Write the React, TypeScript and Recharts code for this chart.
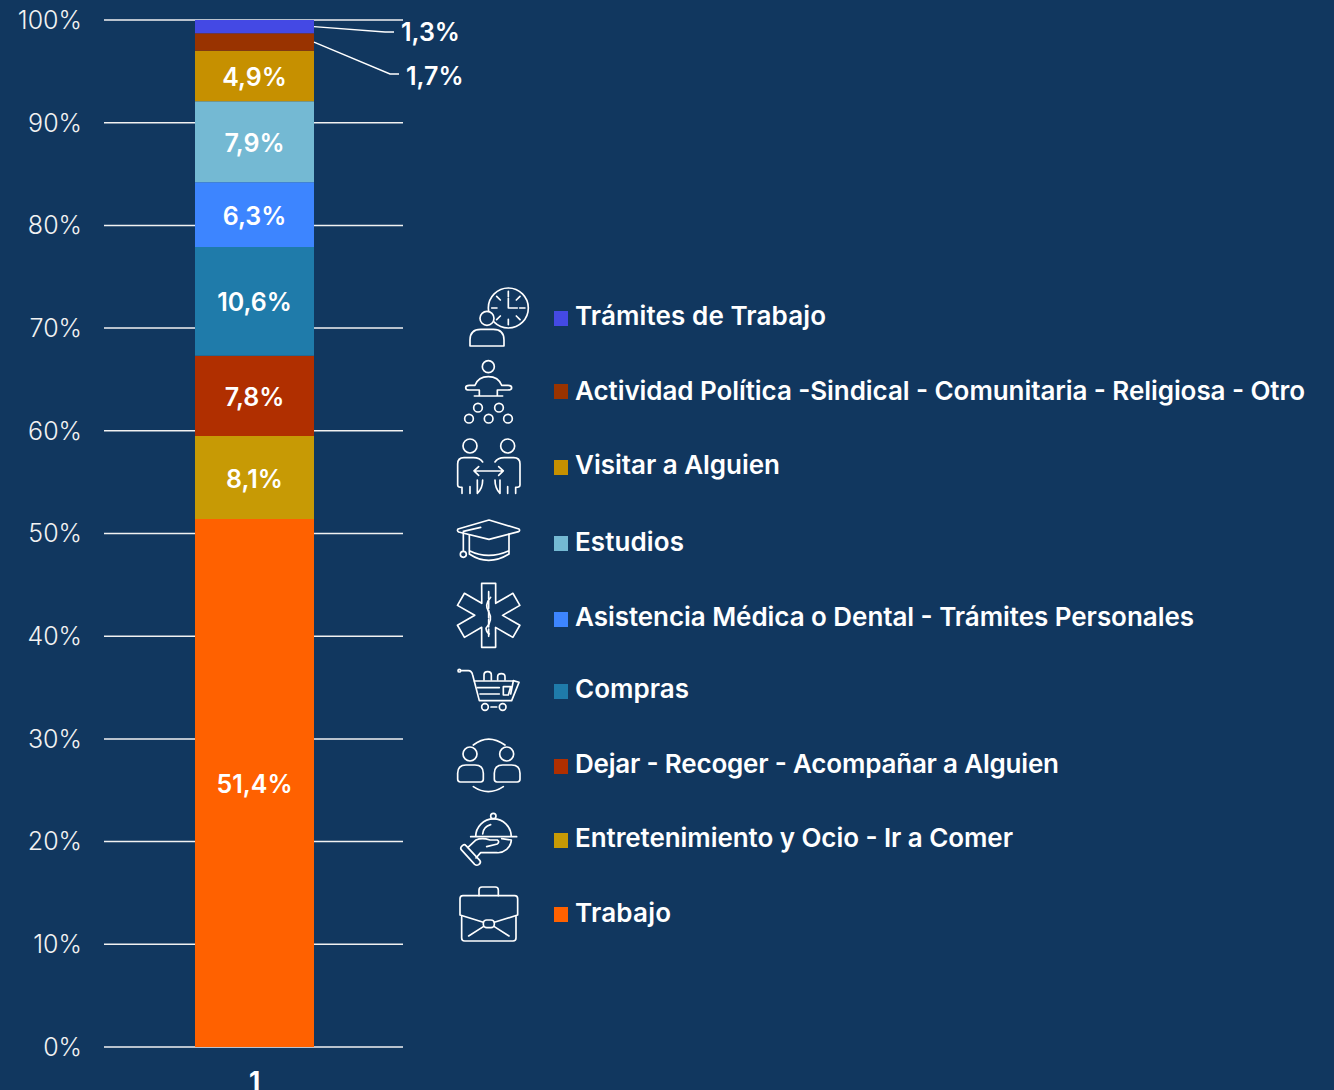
import React from "react";
import { BarChart, Bar, XAxis, YAxis, CartesianGrid, LabelList } from "recharts";

const categories = ["1"];
const yTicks = [0, 10, 20, 30, 40, 50, 60, 70, 80, 90, 100];

// bottom to top, same order as the stack
const seriesNames = [
  "Trabajo",
  "Entretenimiento y Ocio - Ir a Comer",
  "Dejar - Recoger - Acompañar a Alguien",
  "Compras",
  "Asistencia Médica o Dental - Trámites Personales",
  "Estudios",
  "Visitar a Alguien",
  "Actividad Política -Sindical - Comunitaria - Religiosa - Otro",
  "Trámites de Trabajo",
];
const seriesValues = [51.4, 8.1, 7.8, 10.6, 6.3, 7.9, 4.9, 1.7, 1.3];
const seriesColors = [
  "#FF6100",
  "#C79A05",
  "#B02F00",
  "#1F7BAA",
  "#3D85FF",
  "#74B9D3",
  "#C69000",
  "#993300",
  "#4449E4",
];

const BG = "#11375F";
const FONT = "Inter, 'Noto Sans', sans-serif";

const row: Record<string, string | number> = { name: categories[0] };
seriesNames.forEach((n, i) => {
  row[n] = seriesValues[i];
});
const data = [row];

const pct = (v: number) => v.toFixed(1).replace(".", ",") + "%";

// legend layout, matched to series index
const legendY = [912, 837, 763, 688, 616, 541, 464, 390, 315];
const swatchY = [907, 833, 759, 684, 612, 536, 460, 384, 311];
const legendWidth = [96, 438, 484, 114, 619, 109, 205, 730, 251];

// the two thin segments get an outside label with a leader line
function LeaderLabel({ x, y, width, height, value, kink, textX, textY }: any) {
  const sx = x + width;
  const sy = y + height / 2;
  return (
    <g>
      <polyline
        points={`${sx},${sy} ${kink[0]},${kink[1]} ${kink[2]},${kink[1]}`}
        fill="none"
        stroke="#fff"
        strokeWidth={1.4}
      />
      <text x={textX} y={textY} fill="#fff" fontSize={25} fontWeight={600} fontFamily={FONT} dominantBaseline="central">
        {pct(value)}
      </text>
    </g>
  );
}

function InnerLabel({ x, y, width, height, value }: any) {
  return (
    <text
      x={x + width / 2}
      y={y + height / 2 + 1}
      fill="#fff"
      fontSize={25}
      fontWeight={600}
      fontFamily={FONT}
      textAnchor="middle"
      dominantBaseline="central"
    >
      {pct(value)}
    </text>
  );
}

function starPoints() {
  const pts: string[] = [];
  for (let k = 0; k < 6; k++) {
    const a = (k * Math.PI) / 3;
    const rot = (px: number, py: number) =>
      `${146 + px * Math.cos(a) - py * Math.sin(a)},${316 + px * Math.sin(a) + py * Math.cos(a)}`;
    pts.push(rot(-21, -96), rot(21, -96), rot(21, -36));
  }
  return pts.join(" ");
}

// line icons, drawn in zoomed crop units (3x)
function Icons() {
  const common = { fill: "none", stroke: "#fff", strokeWidth: 5, strokeLinecap: "round", strokeLinejoin: "round" } as any;
  return (
    <g {...common}>
      <g transform="translate(440,280) scale(0.3333)">
        {/* clock + person */}
        <circle cx={205} cy={84} r={60} />
        <path d="M205 34V50M205 118V134M155 84H171M239 84H255M170 49L181 60M240 49L229 60M170 119L181 108M240 119L229 108" />
        <path d="M205 55V84H232" />
        <circle cx={141} cy={115} r={21} fill={BG} />
        <path d="M90 198V180Q90 148 122 148H160Q192 148 192 180V198Z" fill={BG} />
        {/* assembly */}
        <circle cx={145} cy={260} r={18} />
        <path d="M103 348H188M118 348V330H88Q77 330 77 323Q77 316 88 316H105Q115 290 145 290Q175 290 185 316H204Q215 316 215 323Q215 330 204 330H172V348" />
        <circle cx={114} cy={383} r={13} />
        <circle cx={177} cy={383} r={13} />
        <circle cx={87} cy={416} r={13} />
        <circle cx={146} cy={416} r={13} />
        <circle cx={204} cy={416} r={13} />
        {/* visit */}
        <circle cx={90} cy={498} r={21} />
        <circle cx={203} cy={498} r={21} />
        <path d="M128 546Q120 533 100 533H72Q53 533 53 552V615Q53 622 66 622V640M90 620V640M112 600V640H112Q128 625 128 600" />
        <path d="M165 546Q173 533 193 533H221Q240 533 240 552V615Q240 622 227 622V640M203 620V640M180 600V640Q165 625 165 600" />
        <path d="M102 573H190M116 560L102 573L116 586M176 560L190 573L176 586" />
      </g>
      <g transform="translate(440,510) scale(0.3333)">
        {/* cap */}
        <path d="M54 57L147 30L237 57Q241 61 236 65L147 88L56 66Q50 62 54 57Z" />
        <path d="M70 67V122M70 64L122 52" />
        <circle cx={70} cy={133} r={9} />
        <path d="M88 75V132Q145 170 207 132V72M88 122Q145 150 207 122" />
        {/* star of life */}
        <polygon points={starPoints()} />
        <path d="M146 245V385" strokeDasharray="22 6" />
        <path d="M152 262Q132 285 146 305Q160 330 138 355Q140 368 148 372" />
        {/* cart */}
        <circle cx={58} cy={482} r={4} />
        <path d="M62 482H85Q95 482 98 495L118 572H215L237 517L220 512" />
        <path d="M103 513H220L212 552M112 533H178M120 552H178M190 530H212L205 555H190Z" />
        <path d="M132 510V495Q132 485 143 485Q154 485 154 495V510M173 510V500Q173 491 184 491Q195 491 195 500V510" />
        <circle cx={135} cy={591} r={10} />
        <circle cx={188} cy={591} r={10} />
        <path d="M153 591H170" />
      </g>
      <g transform="translate(440,730) scale(0.3333)">
        {/* drop off */}
        <path d="M100 45Q145 10 195 45M100 170Q145 200 190 170" />
        <circle cx={90} cy={72} r={21} />
        <circle cx={200} cy={72} r={21} />
        <path d="M53 148V130Q53 105 78 105H105Q130 105 130 130V148Q130 156 122 156H61Q53 156 53 148Z" />
        <path d="M163 148V130Q163 105 188 105H215Q240 105 240 130V148Q240 156 232 156H171Q163 156 163 148Z" />
        {/* cloche */}
        <circle cx={160} cy={258} r={8} />
        <path d="M107 320A53 53 0 0 1 214 320M92 320H230M128 312Q130 290 152 284" />
        <path d="M84 352L108 330Q125 322 150 330H172Q180 335 172 342L140 350M185 326L214 330Q214 345 200 358Q185 370 170 368H122L108 384" />
        <path d="M63 358Q60 352 68 346Q74 342 78 347L120 392Q124 398 116 404Q110 408 104 403Z" />
        {/* briefcase */}
        <path d="M117 497V480Q117 471 126 471H166Q175 471 175 480V497" />
        <path d="M60 555V506Q60 497 69 497H224Q233 497 233 506V555L163 577M60 555L130 577" />
        <path d="M65 560V624Q65 633 74 633H219Q228 633 228 624V560" />
        <rect x={130} y={570} width={33} height={23} rx={10} />
        <path d="M86 618L130 590M207 618L163 590" />
      </g>
    </g>
  );
}

export default function App() {
  return (
    <div style={{ position: "absolute", left: 0, top: 0, width: 1334, height: 1090, background: BG, overflow: "hidden" }}>
      <BarChart
        width={1334}
        height={1090}
        data={data}
        margin={{ top: 20, right: 931, bottom: 0, left: 0 }}
        barSize={119}
        barGap={0}
      >
        <CartesianGrid horizontal vertical={false} stroke="#F2F2F2" strokeWidth={1.5} />
        <XAxis
          dataKey="name"
          height={43}
          padding={{ left: 2, right: 0 }}
          tickLine={false}
          axisLine={false}
          tickMargin={19}
          tick={{ fill: "#fff", fontSize: 26, fontWeight: 700, fontFamily: FONT }}
        />
        <YAxis
          width={104}
          domain={[0, 100]}
          ticks={yTicks}
          interval={0}
          tickLine={false}
          axisLine={false}
          tickSize={0}
          tickMargin={23}
          tickFormatter={(v) => `${v}%`}
          tick={{ fill: "#F2F2F2", fontSize: 25, fontWeight: 300, fontFamily: FONT, dx: 1 }}
        />
        {seriesNames.map((n, i) => (
          <Bar key={n} dataKey={n} stackId="a" fill={seriesColors[i]} isAnimationActive={false}>
            {i < 7 && <LabelList dataKey={n} content={<InnerLabel />} />}
            {i === 7 && (
              <LabelList dataKey={n} content={<LeaderLabel kink={[390, 74, 399]} textX={406} textY={76} />} />
            )}
            {i === 8 && (
              <LabelList dataKey={n} content={<LeaderLabel kink={[385, 32, 394]} textX={401} textY={32} />} />
            )}
          </Bar>
        ))}
      </BarChart>

      {/* legend with icons sits to the right of the plot */}
      <svg width={1334} height={1090} style={{ position: "absolute", left: 0, top: 0, pointerEvents: "none" }}>
        <Icons />
        {seriesNames.map((n, i) => (
          <g key={n}>
            <rect x={554} y={swatchY[i]} width={14} height={15} fill={seriesColors[i]} />
            <text
              x={575}
              y={legendY[i]}
              fill="#fff"
              fontSize={26}
              fontWeight={600}
              fontFamily={FONT}
              dominantBaseline="central"
              textLength={legendWidth[i]}
              lengthAdjust="spacing"
            >
              {n}
            </text>
          </g>
        ))}
      </svg>
    </div>
  );
}
